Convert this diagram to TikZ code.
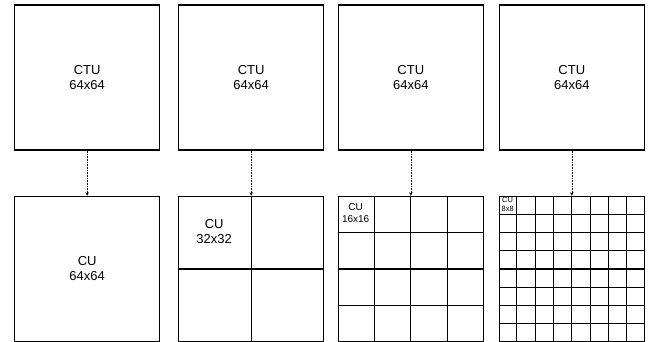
\documentclass[tikz,border=0pt]{standalone}
\usepackage{fontspec}
\setmainfont{Liberation Sans}
\usetikzlibrary{arrows.meta,calc}

\tikzset{
  blockbox/.style={draw, line width=1.5pt, minimum width=145pt, minimum height=145pt,
    inner sep=0pt, align=center, font=\fontsize{13}{15}\selectfont},
  cutline/.style={line width=1.1pt},
  cellbig/.style={align=center, inner sep=0pt, font=\fontsize{13}{15}\selectfont},
  cellmid/.style={align=center, inner sep=0pt, font=\fontsize{10}{12}\selectfont},
  cellsmall/.style={align=center, inner sep=0pt, font=\fontsize{7.5}{8.5}\selectfont},
  split/.style={densely dotted, line width=0.6pt, -{Stealth[length=3.5pt,width=3.5pt]}}
}

\begin{document}
\begin{tikzpicture}[x=1pt,y=-1pt]
	\useasboundingbox (0,0) rectangle (650,342);

	% Draw CTUs
	\node[blockbox] (ctuA) at (87.2,77.5) {CTU\\64x64};
	\node[blockbox] (ctuB) at (251.2,77.5) {CTU\\64x64};
	\node[blockbox] (ctuC) at (410.8,77.5) {CTU\\64x64};
	\node[blockbox] (ctuD) at (571.8,77.5) {CTU\\64x64};

	% Draw CU partitions
	\node[blockbox] (cuA) at (87.2,269) {CU\\64x64};
	\node[blockbox] (cuB) at (251.2,269) {};
	\node[blockbox] (cuC) at (410.8,269) {};
	\node[blockbox] (cuD) at (571.8,269) {};

	% Draw split arrows
	\foreach \col in {A,B,C,D}
		\draw[split] (ctu\col) -- (cu\col);

	% Draw grids
	\foreach \n/\col in {2/B, 4/C, 8/D} {
		\pgfmathtruncatemacro{\last}{\n-1}
		\foreach \i in {1,...,\last} {
			\draw[cutline] ($(cu\col.north west)!\i/\n!(cu\col.north east)$)
				-- ($(cu\col.south west)!\i/\n!(cu\col.south east)$);
			\draw[cutline] ($(cu\col.north west)!\i/\n!(cu\col.south west)$)
				-- ($(cu\col.north east)!\i/\n!(cu\col.south east)$);
		}
	}

	% Draw cell labels
	\node[cellbig] (lblB) at ($(cuB.north west)+(36.25,36.25)$) {CU\\32x32};
	\node[cellmid] (lblC) at ($(cuC.north west)+(18.1,17)$) {CU\\16x16};
	\node[cellsmall] (lblD) at ($(cuD.north west)+(9.1,8.6)$) {CU\\8x8};
\end{tikzpicture}
\end{document}
